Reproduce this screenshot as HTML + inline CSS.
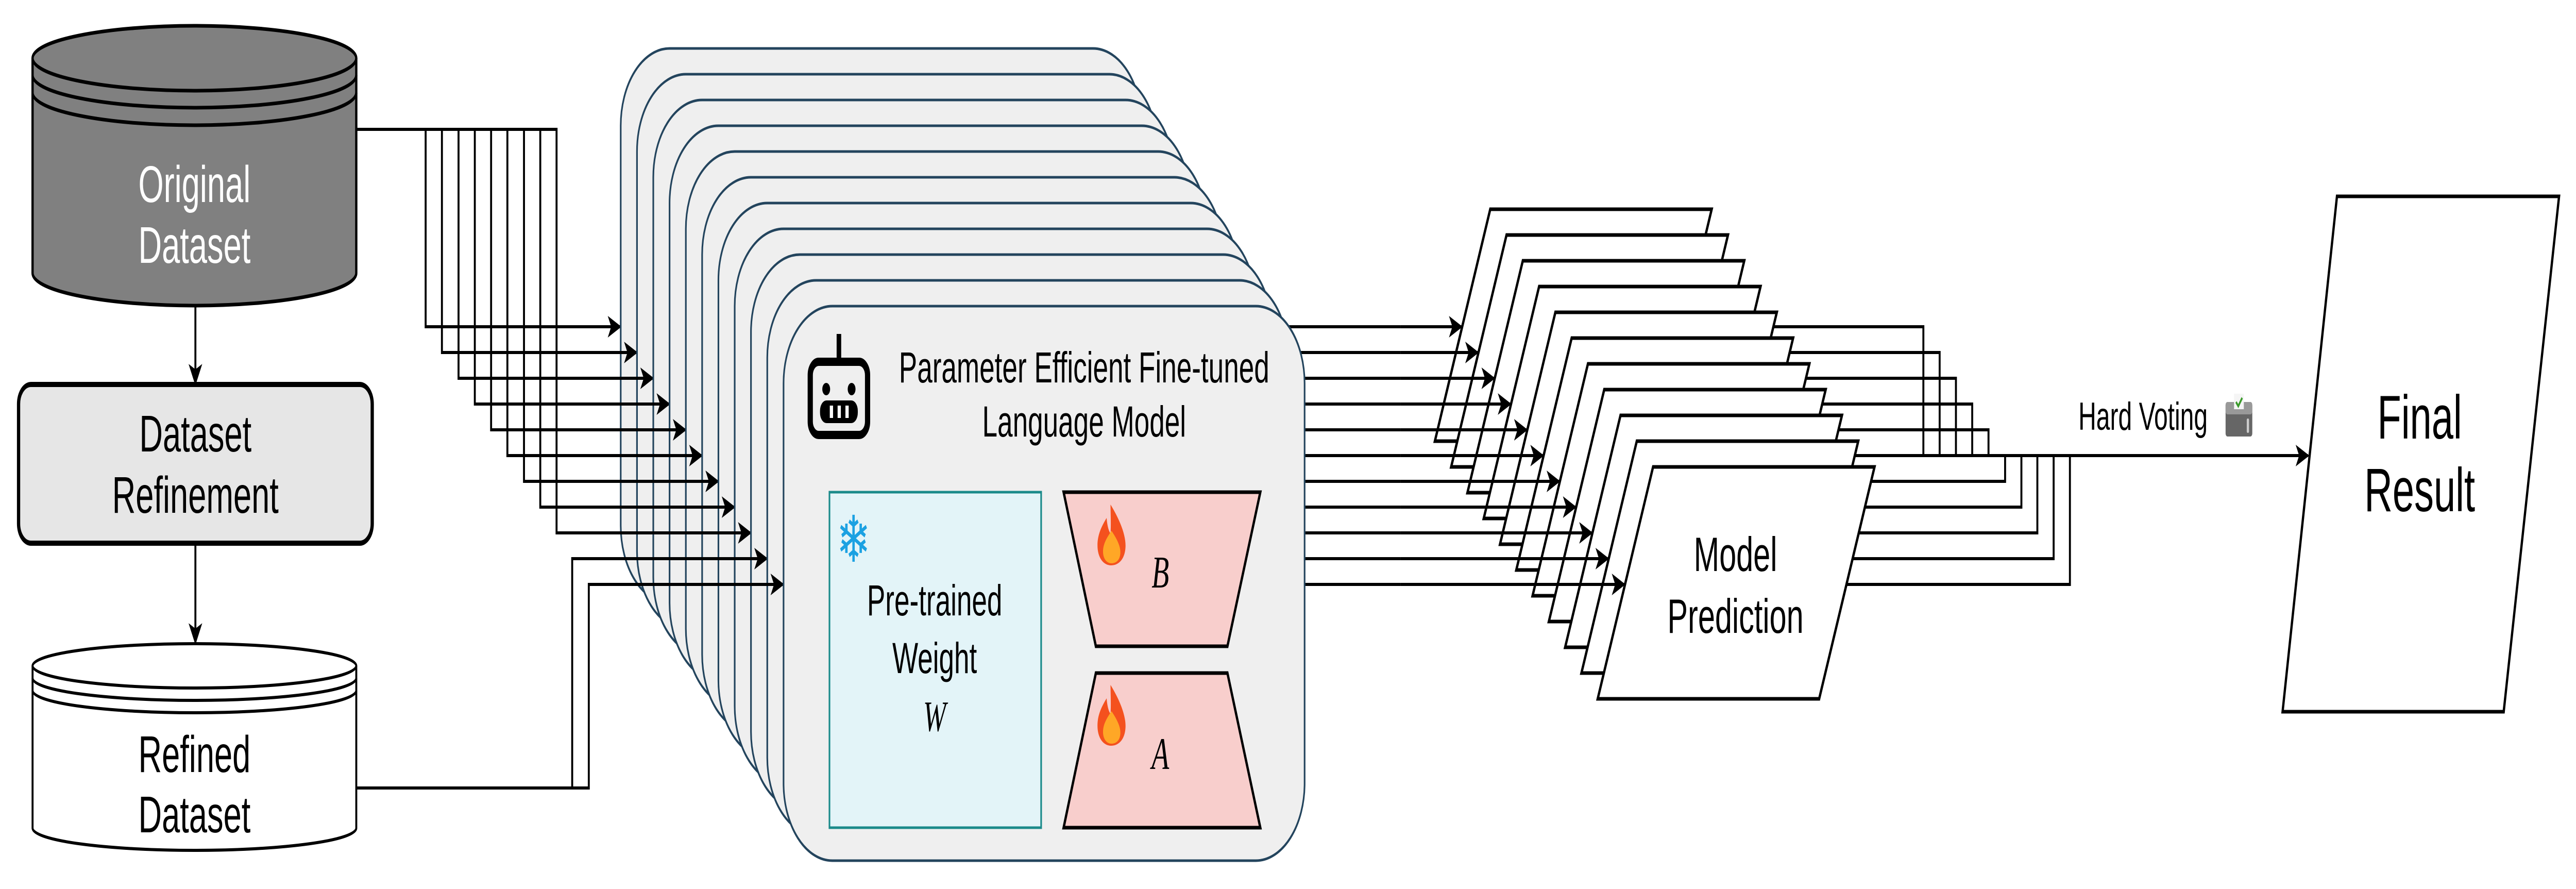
<!DOCTYPE html>
<html><head><meta charset="utf-8"><style>html,body{margin:0;padding:0;background:#fff;width:100%;height:100%;overflow:hidden}svg{display:block;width:100vw;height:100vh}</style></head>
<body>
<svg xmlns="http://www.w3.org/2000/svg" viewBox="0 0 7910 1725" preserveAspectRatio="none" font-family="'Liberation Sans', sans-serif">
<defs>
<marker id="ah" viewBox="0 0 10 10" refX="9" refY="5" markerWidth="7" markerHeight="7" markerUnits="strokeWidth" orient="auto"><path d="M0,0 L10,5 L0,10 L2.5,5 Z" fill="#000"/></marker>
</defs>
<rect width="7910" height="1725" fill="#fff"/>

<g stroke="#000" stroke-width="7">
<path d="M100,113 A497,63 0 0 1 1094,113 L1094,530 A497,63 0 0 1 100,530 Z" fill="#808080"/>
<path d="M100,113 A497,63 0 0 0 1094,113" fill="none"/>
<path d="M100,146 A497,63 0 0 0 1094,146" fill="none"/>
<path d="M100,180 A497,63 0 0 0 1094,180" fill="none"/>
</g>
<text x="597" y="392" font-size="100" fill="#fff" text-anchor="middle">Original</text>
<text x="597" y="510" font-size="100" fill="#fff" text-anchor="middle">Dataset</text>

<line x1="600" y1="594" x2="600" y2="744" stroke="#000" stroke-width="6" marker-end="url(#ah)"/>
<rect x="57" y="746" width="1086" height="308" rx="38" fill="#e6e6e6" stroke="#000" stroke-width="10"/>
<text x="600" y="876" font-size="100" text-anchor="middle">Dataset</text>
<text x="600" y="995" font-size="100" text-anchor="middle">Refinement</text>
<line x1="600" y1="1054" x2="600" y2="1247" stroke="#000" stroke-width="6" marker-end="url(#ah)"/>

<g stroke="#000" stroke-width="6">
<path d="M100,1292 A497,43 0 0 1 1094,1292 L1094,1607 A497,43 0 0 1 100,1607 Z" fill="#fff"/>
<path d="M100,1292 A497,43 0 0 0 1094,1292" fill="none"/>
<path d="M100,1316 A497,43 0 0 0 1094,1316" fill="none"/>
<path d="M100,1340 A497,43 0 0 0 1094,1340" fill="none"/>
</g>
<text x="597" y="1498" font-size="100" text-anchor="middle">Refined</text>
<text x="597" y="1615" font-size="100" text-anchor="middle">Dataset</text>

<g fill="none" stroke="#000" stroke-width="6">
<path d="M1094,251 H1307 V634 H1904" marker-end="url(#ah)"/>
</g>
<g fill="none" stroke="#000" stroke-width="6"><path d="M3506,634 H4300"/></g>
<rect x="1906" y="94" width="1600" height="1076" rx="150" fill="#efefef" stroke="#23445d" stroke-width="5"/>

<g fill="none" stroke="#000" stroke-width="6"><path d="M1094,251 H1357 V684 H1954" marker-end="url(#ah)"/><path d="M3556,684 H4300"/></g>
<rect x="1956" y="144" width="1600" height="1076" rx="150" fill="#efefef" stroke="#23445d" stroke-width="5"/>

<g fill="none" stroke="#000" stroke-width="6"><path d="M1094,251 H1408 V734 H2004" marker-end="url(#ah)"/><path d="M3606,734 H4300"/></g>
<rect x="2006" y="194" width="1600" height="1076" rx="150" fill="#efefef" stroke="#23445d" stroke-width="5"/>

<g fill="none" stroke="#000" stroke-width="6"><path d="M1094,251 H1458 V784 H2054" marker-end="url(#ah)"/><path d="M3656,784 H4300"/></g>
<rect x="2056" y="244" width="1600" height="1076" rx="150" fill="#efefef" stroke="#23445d" stroke-width="5"/>

<g fill="none" stroke="#000" stroke-width="6"><path d="M1094,251 H1508 V834 H2104" marker-end="url(#ah)"/><path d="M3706,834 H4300"/></g>
<rect x="2106" y="294" width="1600" height="1076" rx="150" fill="#efefef" stroke="#23445d" stroke-width="5"/>

<g fill="none" stroke="#000" stroke-width="6"><path d="M1094,251 H1558 V884 H2154" marker-end="url(#ah)"/><path d="M3756,884 H4300"/></g>
<rect x="2156" y="344" width="1600" height="1076" rx="150" fill="#efefef" stroke="#23445d" stroke-width="5"/>

<g fill="none" stroke="#000" stroke-width="6"><path d="M1094,251 H1609 V934 H2204" marker-end="url(#ah)"/><path d="M3806,934 H4300"/></g>
<rect x="2206" y="394" width="1600" height="1076" rx="150" fill="#efefef" stroke="#23445d" stroke-width="5"/>

<g fill="none" stroke="#000" stroke-width="6"><path d="M1094,251 H1659 V984 H2254" marker-end="url(#ah)"/><path d="M3856,984 H4300"/></g>
<rect x="2256" y="444" width="1600" height="1076" rx="150" fill="#efefef" stroke="#23445d" stroke-width="5"/>

<g fill="none" stroke="#000" stroke-width="6"><path d="M1094,251 H1709 V1034 H2304" marker-end="url(#ah)"/><path d="M3906,1034 H4300"/></g>
<rect x="2306" y="494" width="1600" height="1076" rx="150" fill="#efefef" stroke="#23445d" stroke-width="5"/>

<g fill="none" stroke="#000" stroke-width="6"><path d="M1094,1529 H1757 V1084 H2354" marker-end="url(#ah)"/><path d="M3956,1084 H4300"/></g>
<rect x="2356" y="544" width="1600" height="1076" rx="150" fill="#efefef" stroke="#23445d" stroke-width="5"/>

<g fill="none" stroke="#000" stroke-width="6"><path d="M1094,1529 H1808 V1134 H2404" marker-end="url(#ah)"/><path d="M4006,1134 H4300"/></g>
<rect x="2406" y="594" width="1600" height="1076" rx="150" fill="#efefef" stroke="#23445d" stroke-width="5"/>

<g>
<line x1="2576" y1="648" x2="2576" y2="702" stroke="#000" stroke-width="14"/>
<rect x="2488" y="702" width="176" height="142" rx="26" fill="none" stroke="#000" stroke-width="16"/>
<circle cx="2537" cy="755" r="12" fill="#000"/>
<circle cx="2615" cy="755" r="12" fill="#000"/>
<rect x="2518" y="777" width="116" height="44" rx="20" fill="#000"/>
<rect x="2548" y="787" width="10" height="24" fill="#fff"/>
<rect x="2572" y="787" width="10" height="24" fill="#fff"/>
<rect x="2596" y="787" width="10" height="24" fill="#fff"/>
</g>
<text x="3329" y="742" font-size="84" text-anchor="middle">Parameter Efficient Fine-tuned</text>
<text x="3329" y="847" font-size="84" text-anchor="middle">Language Model</text>

<rect x="2547" y="955" width="650" height="651" fill="#e3f4f8" stroke="#1a8a8a" stroke-width="5"/>
<text x="2621" y="1090" font-size="125" fill="#1ba1e2" text-anchor="middle" font-family="'DejaVu Sans', sans-serif">❄</text>
<text x="2870" y="1194" font-size="84" text-anchor="middle">Pre-trained</text>
<text x="2870" y="1306" font-size="84" text-anchor="middle">Weight</text>
<text x="2870" y="1418" font-size="84" text-anchor="middle" font-family="'Liberation Serif', serif" font-style="italic">W</text>

<polygon points="3266,955 3870,955 3769,1254 3365,1254" fill="#f8cecc" stroke="#000" stroke-width="7"/>
<polygon points="3365,1306 3769,1306 3870,1606 3266,1606" fill="#f8cecc" stroke="#000" stroke-width="7"/>
<g>
<path d="M3410,979 C3440,1010 3458,1040 3456,1062 C3454,1085 3435,1097 3412,1097 C3388,1097 3370,1082 3370,1058 C3370,1035 3386,1018 3398,1005 C3400,1020 3404,1030 3410,1035 C3412,1015 3410,995 3410,979 Z" fill="#f4511e"/>
<path d="M3413,1030 C3432,1048 3442,1062 3440,1075 C3438,1087 3427,1093 3413,1093 C3398,1093 3387,1084 3387,1070 C3387,1055 3400,1042 3413,1030 Z" fill="#ffa726"/>
</g>
<g transform="translate(0,350)">
<path d="M3410,979 C3440,1010 3458,1040 3456,1062 C3454,1085 3435,1097 3412,1097 C3388,1097 3370,1082 3370,1058 C3370,1035 3386,1018 3398,1005 C3400,1020 3404,1030 3410,1035 C3412,1015 3410,995 3410,979 Z" fill="#f4511e"/>
<path d="M3413,1030 C3432,1048 3442,1062 3440,1075 C3438,1087 3427,1093 3413,1093 C3398,1093 3387,1084 3387,1070 C3387,1055 3400,1042 3413,1030 Z" fill="#ffa726"/>
</g>
<text x="3563" y="1140" font-size="88" text-anchor="middle" font-family="'Liberation Serif', serif" font-style="italic">B</text>
<text x="3563" y="1492" font-size="88" text-anchor="middle" font-family="'Liberation Serif', serif" font-style="italic">A</text>

<g fill="none" stroke="#000" stroke-width="6">
<path d="M4300,634 H4487" marker-end="url(#ah)"/><path d="M5170,634 H5906 V884"/>
</g>
<polygon points="4576,406 5256,406 5086,856 4406,856" fill="#fff" stroke="#000" stroke-width="7"/>
<g fill="none" stroke="#000" stroke-width="6">
<path d="M4300,684 H4537" marker-end="url(#ah)"/><path d="M5220,684 H5956 V884"/>
</g>
<polygon points="4626,456 5306,456 5136,906 4456,906" fill="#fff" stroke="#000" stroke-width="7"/>
<g fill="none" stroke="#000" stroke-width="6">
<path d="M4300,734 H4587" marker-end="url(#ah)"/><path d="M5270,734 H6006 V884"/>
</g>
<polygon points="4676,506 5356,506 5186,956 4506,956" fill="#fff" stroke="#000" stroke-width="7"/>
<g fill="none" stroke="#000" stroke-width="6">
<path d="M4300,784 H4637" marker-end="url(#ah)"/><path d="M5320,784 H6056 V884"/>
</g>
<polygon points="4726,556 5406,556 5236,1006 4556,1006" fill="#fff" stroke="#000" stroke-width="7"/>
<g fill="none" stroke="#000" stroke-width="6">
<path d="M4300,834 H4687" marker-end="url(#ah)"/><path d="M5370,834 H6106 V884"/>
</g>
<polygon points="4776,606 5456,606 5286,1056 4606,1056" fill="#fff" stroke="#000" stroke-width="7"/>
<g fill="none" stroke="#000" stroke-width="6">
<path d="M4300,884 H4737" marker-end="url(#ah)"/><path d="M5420,884 H7087" marker-end="url(#ah)"/>
</g>
<polygon points="4826,656 5506,656 5336,1106 4656,1106" fill="#fff" stroke="#000" stroke-width="7"/>
<g fill="none" stroke="#000" stroke-width="6">
<path d="M4300,934 H4787" marker-end="url(#ah)"/><path d="M5470,934 H6157 V884"/>
</g>
<polygon points="4876,706 5556,706 5386,1156 4706,1156" fill="#fff" stroke="#000" stroke-width="7"/>
<g fill="none" stroke="#000" stroke-width="6">
<path d="M4300,984 H4837" marker-end="url(#ah)"/><path d="M5520,984 H6207 V884"/>
</g>
<polygon points="4926,756 5606,756 5436,1206 4756,1206" fill="#fff" stroke="#000" stroke-width="7"/>
<g fill="none" stroke="#000" stroke-width="6">
<path d="M4300,1034 H4887" marker-end="url(#ah)"/><path d="M5570,1034 H6256 V884"/>
</g>
<polygon points="4976,806 5656,806 5486,1256 4806,1256" fill="#fff" stroke="#000" stroke-width="7"/>
<g fill="none" stroke="#000" stroke-width="6">
<path d="M4300,1084 H4937" marker-end="url(#ah)"/><path d="M5620,1084 H6306 V884"/>
</g>
<polygon points="5026,856 5706,856 5536,1306 4856,1306" fill="#fff" stroke="#000" stroke-width="7"/>
<g fill="none" stroke="#000" stroke-width="6">
<path d="M4300,1134 H4987" marker-end="url(#ah)"/><path d="M5670,1134 H6356 V884"/>
</g>
<polygon points="5076,906 5756,906 5586,1356 4906,1356" fill="#fff" stroke="#000" stroke-width="7"/>
<text x="5329" y="1108" font-size="94" text-anchor="middle">Model</text>
<text x="5329" y="1228" font-size="94" text-anchor="middle">Prediction</text>

<text x="6382" y="834" font-size="76">Hard Voting</text>
<g>
<rect x="6834" y="780" width="82" height="67" rx="6" fill="#666"/>
<rect x="6834" y="780" width="82" height="24" rx="6" fill="#999"/>
<rect x="6860" y="764" width="30" height="30" fill="#f5f5f5"/>
<path d="M6866,780 L6873,788 L6885,772" fill="none" stroke="#3a9a2a" stroke-width="5"/>
<rect x="6899" y="812" width="7" height="28" rx="3" fill="#ccc"/>
</g>

<polygon points="7176,381 7858,381 7688,1381 7009,1381" fill="#fff" stroke="#000" stroke-width="7"/>
<text x="7430" y="851" font-size="120" text-anchor="middle">Final</text>
<text x="7430" y="992" font-size="120" text-anchor="middle">Result</text>
</svg>
</body></html>
